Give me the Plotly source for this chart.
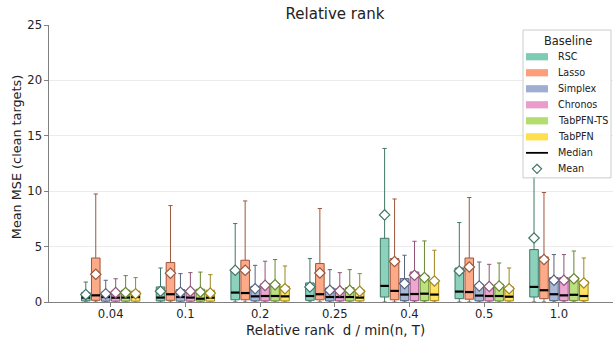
import plotly.graph_objects as go

categories = ["0.04", "0.1", "0.2", "0.25", "0.4", "0.5", "1.0"]
baselines = ["RSC", "Lasso", "Simplex", "Chronos", "TabPFN-TS", "TabPFN"]
colors = ["#66c2a5", "#fc8d62", "#8da0cb", "#e78ac3", "#a6d854", "#ffd92f"]

q1 = {
    "RSC": [0.10, 0.10, 0.20, 0.15, 0.45, 0.30, 0.45],
    "Lasso": [0.15, 0.15, 0.20, 0.20, 0.20, 0.25, 0.30],
    "Simplex": [0.08, 0.08, 0.10, 0.10, 0.12, 0.10, 0.12],
    "Chronos": [0.08, 0.08, 0.10, 0.10, 0.12, 0.10, 0.12],
    "TabPFN-TS": [0.08, 0.08, 0.10, 0.10, 0.12, 0.10, 0.12],
    "TabPFN": [0.08, 0.08, 0.10, 0.10, 0.12, 0.10, 0.12],
}
median = {
    "RSC": [0.40, 0.40, 0.85, 0.54, 1.45, 0.94, 1.36],
    "Lasso": [0.60, 0.70, 0.81, 0.70, 1.00, 0.90, 1.06],
    "Simplex": [0.45, 0.45, 0.51, 0.45, 0.67, 0.58, 0.70],
    "Chronos": [0.39, 0.40, 0.54, 0.45, 0.72, 0.54, 0.60],
    "TabPFN-TS": [0.40, 0.30, 0.54, 0.45, 0.75, 0.54, 0.65],
    "TabPFN": [0.45, 0.39, 0.51, 0.40, 0.67, 0.48, 0.54],
}
q3 = {
    "RSC": [0.85, 1.36, 2.95, 1.72, 5.75, 3.07, 4.73],
    "Lasso": [3.97, 3.56, 3.77, 3.47, 3.92, 3.97, 4.07],
    "Simplex": [0.90, 1.12, 1.42, 1.27, 2.11, 1.60, 2.20],
    "Chronos": [0.97, 1.06, 1.66, 1.20, 2.71, 1.50, 2.20],
    "TabPFN-TS": [1.06, 1.15, 1.66, 1.30, 2.41, 1.60, 2.26],
    "TabPFN": [0.98, 1.06, 1.42, 1.12, 2.02, 1.36, 1.90],
}
lower = {
    b: [0.0, 0.0, 0.0, 0.0, 0.0, 0.0, 0.0] for b in baselines
}
upper = {
    "RSC": [1.80, 3.07, 7.08, 3.92, 13.86, 7.17, 11.25],
    "Lasso": [9.75, 8.70, 9.12, 8.44, 9.30, 9.43, 9.88],
    "Simplex": [1.96, 2.56, 3.31, 2.92, 4.22, 3.61, 4.28],
    "Chronos": [2.10, 2.65, 3.68, 2.65, 5.48, 3.40, 4.28],
    "TabPFN-TS": [2.38, 2.70, 3.83, 2.92, 5.51, 3.52, 4.60],
    "TabPFN": [2.20, 2.47, 3.25, 2.56, 4.67, 3.07, 3.97],
}
mean = {
    "RSC": [0.67, 0.97, 2.86, 1.36, 7.86, 2.80, 5.78],
    "Lasso": [2.50, 2.60, 2.86, 2.62, 3.65, 3.16, 3.83],
    "Simplex": [0.75, 0.88, 1.20, 1.06, 1.66, 1.45, 1.96],
    "Chronos": [0.85, 0.97, 1.50, 1.00, 2.41, 1.40, 1.96],
    "TabPFN-TS": [0.85, 0.90, 1.56, 1.06, 2.20, 1.45, 2.10],
    "TabPFN": [0.75, 0.80, 1.20, 0.97, 1.90, 1.20, 1.72],
}
y_ticks = [0, 5, 10, 15, 20, 25]
legend_labels = baselines + ["Median", "Mean"]


def hex_rgb(h):
    h = h.lstrip("#")
    return tuple(int(h[i:i + 2], 16) for i in (0, 2, 4))


def rgba(h, a):
    r, g, b = hex_rgb(h)
    return f"rgba({r},{g},{b},{a})"


def dark(h, f=0.62):
    r, g, b = hex_rgb(h)
    return f"rgb({int(r*f)},{int(g*f)},{int(b*f)})"


slot = 0.8 / len(baselines)
box_w = slot * 0.86
positions = list(range(len(categories)))

fig = go.Figure()

# boxes
for j, b in enumerate(baselines):
    xs = [p + (j - (len(baselines) - 1) / 2) * slot for p in positions]
    fig.add_trace(go.Box(
        x=xs, q1=q1[b], median=median[b], q3=q3[b],
        lowerfence=lower[b], upperfence=upper[b],
        width=box_w, whiskerwidth=0.5, boxpoints=False,
        fillcolor=rgba(colors[j], 0.75),
        line=dict(color=dark(colors[j]), width=1),
        showlegend=False, hoverinfo="skip",
    ))

# medians (black)
for j, b in enumerate(baselines):
    mx, my = [], []
    for p, m in zip(positions, median[b]):
        xc = p + (j - (len(baselines) - 1) / 2) * slot
        mx += [xc - box_w / 2, xc + box_w / 2, None]
        my += [m, m, None]
    fig.add_trace(go.Scatter(x=mx, y=my, mode="lines",
                             line=dict(color="black", width=2.2),
                             showlegend=False, hoverinfo="skip"))

# means
for j, b in enumerate(baselines):
    xs = [p + (j - (len(baselines) - 1) / 2) * slot for p in positions]
    fig.add_trace(go.Scatter(
        x=xs, y=mean[b], mode="markers",
        marker=dict(symbol="diamond", size=8, color="white",
                    line=dict(color=dark(colors[j]), width=1.2)),
        showlegend=False, hoverinfo="skip"))

# ---- plot area geometry in pixels (for the hand-built legend) ----
L, R, T, B = 49, 613, 25, 301.7


def fx(px):
    return (px - L) / (R - L)


def fy(py):
    return (B - py) / (B - T)


shapes = []
annotations = []
# legend frame
shapes.append(dict(type="rect", xref="paper", yref="paper", layer="above",
                   x0=fx(523), x1=fx(611), y0=fy(177.7), y1=fy(30),
                   fillcolor="rgba(255,255,255,0.9)",
                   line=dict(color="#cccccc", width=1)))
annotations.append(dict(text="Baseline", xref="paper", yref="paper",
                        x=fx(568), y=fy(40.5), xanchor="center", yanchor="middle",
                        showarrow=False, font=dict(size=11.4, color="#222222")))
row0, dy = 56.7, 16.0
for k, lab in enumerate(legend_labels):
    yc = row0 + k * dy
    if k < len(baselines):
        shapes.append(dict(type="rect", xref="paper", yref="paper", layer="above",
                           x0=fx(526), x1=fx(548), y0=fy(yc + 3.6), y1=fy(yc - 3.6),
                           fillcolor=rgba(colors[k], 0.85), line=dict(width=0)))
    elif lab == "Median":
        shapes.append(dict(type="line", xref="paper", yref="paper", layer="above",
                           x0=fx(526), x1=fx(548), y0=fy(yc), y1=fy(yc),
                           line=dict(color="black", width=1.8)))
    else:
        shapes.append(dict(type="path", xref="paper", yref="paper", layer="above",
                           xsizemode="pixel", ysizemode="pixel",
                           xanchor=fx(537), yanchor=fy(yc),
                           path="M0,4.6 L4.6,0 L0,-4.6 L-4.6,0 Z",
                           fillcolor="white",
                           line=dict(color=dark(colors[0]), width=1.2)))
    annotations.append(dict(text=lab, xref="paper", yref="paper",
                            x=fx(556), y=fy(yc), xanchor="left", yanchor="middle",
                            showarrow=False, font=dict(size=9.6, color="#222222")))

annotations.append(dict(text="Relative rank\u00a0\u00a0d / min(n, T)", xref="paper", yref="paper",
                        x=fx(335), y=fy(330), xanchor="center", yanchor="middle",
                        showarrow=False, font=dict(size=13.4, color="#222222")))
annotations.append(dict(text="Mean MSE (clean targets)", xref="paper", yref="paper",
                        x=fx(16), y=fy(157), xanchor="center",
                        yanchor="middle", textangle=-90, showarrow=False,
                        font=dict(size=12.8, color="#222222")))

fig.update_layout(
    width=613, height=337,
    margin=dict(l=L, r=0, t=T, b=337 - B),
    paper_bgcolor="white", plot_bgcolor="white",
    font=dict(family="DejaVu Sans", color="#222222", size=11),
    boxmode="overlay",
    showlegend=False,
    title=dict(text="Relative rank", x=fx(335), xref="paper", xanchor="center",
               y=1 - 14 / 337, yref="container", yanchor="middle",
               font=dict(size=15, color="#222222")),
    xaxis=dict(range=[-0.826, 6.724], tickvals=positions, ticktext=categories,
               showgrid=False, zeroline=False, showline=True,
               linecolor="#808080", linewidth=1.2, ticks="outside",
               ticklen=3.5, tickcolor="#808080", tickfont=dict(size=11.6),
               ticklabelstandoff=-3),
    yaxis=dict(range=[0, 25], tickvals=y_ticks, showgrid=True,
               gridcolor="#ececec", gridwidth=1, zeroline=False,
               showline=True, linecolor="#808080", linewidth=1.2,
               ticks="outside", ticklen=3.5, tickcolor="#808080",
               tickfont=dict(size=11.6)),
    shapes=shapes,
    annotations=annotations,
)

fig.write_html("out.html")
